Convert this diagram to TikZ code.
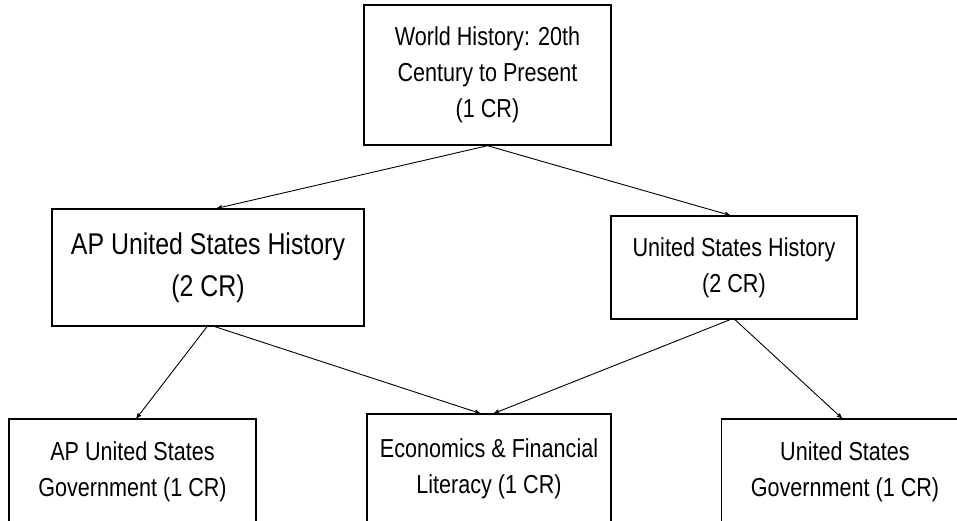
\documentclass[tikz,border=0pt]{standalone}
\usepackage{fontspec}
\setmainfont{Liberation Sans}[FakeStretch=0.83]
\usepackage{tikz}
\usetikzlibrary{arrows,positioning}
\tikzset{
    %Define standard arrow tip
    >=stealth',
    %Define style for course boxes
    course/.style={
           rectangle,
           draw=black, line width=1.4pt,
           inner sep=0pt,
           font=\fontsize{26}{36}\selectfont,
           align=center},
    apcourse/.style={
           course,
           font=\fontsize{30}{42}\selectfont},
    % Define arrow style
    pil/.style={
           ->,
           line width=0.9pt,
           shorten >=0pt}
}

\begin{document}
\begin{tikzpicture}[x=1pt,y=1pt]
\useasboundingbox (0,0) rectangle (957,520);
\clip (0,0) rectangle (957,520);
\node[course, minimum width=247pt, minimum height=140pt] (world) at (487.5,445)
   {World History: 20th\\Century to Present\\(1 CR)};
\node[apcourse, minimum width=312pt, minimum height=117pt] (apush) at (208,252.5)
   {AP United States History\\(2 CR)};
\node[course, minimum width=246pt, minimum height=103pt] (ush) at (734,252.5)
   {United States History\\(2 CR)};
\node[course, minimum width=247pt, minimum height=106pt] (apgov) at (132.5,48)
   {AP United States\\Government (1 CR)};
\node[course, minimum width=244pt, minimum height=110pt] (econ) at (489,51)
   {Economics \& Financial\\Literacy (1 CR)};
\node[course, minimum width=247pt, minimum height=106pt] (usgov) at (845,48)
   {United States\\Government (1 CR)};
 \path[pil]
   (world.south) edge ([xshift=9pt]apush.north)
   (world.south) edge ([xshift=-4pt]ush.north)
   ([xshift=-1pt]apush.south) edge ([xshift=4pt]apgov.north)
   ([xshift=7pt]apush.south) edge ([xshift=-9pt]econ.north)
   ([xshift=-4pt]ush.south) edge ([xshift=5pt]econ.north)
   ([xshift=1pt]ush.south) edge ([xshift=-3pt]usgov.north);
\end{tikzpicture}
\end{document}
